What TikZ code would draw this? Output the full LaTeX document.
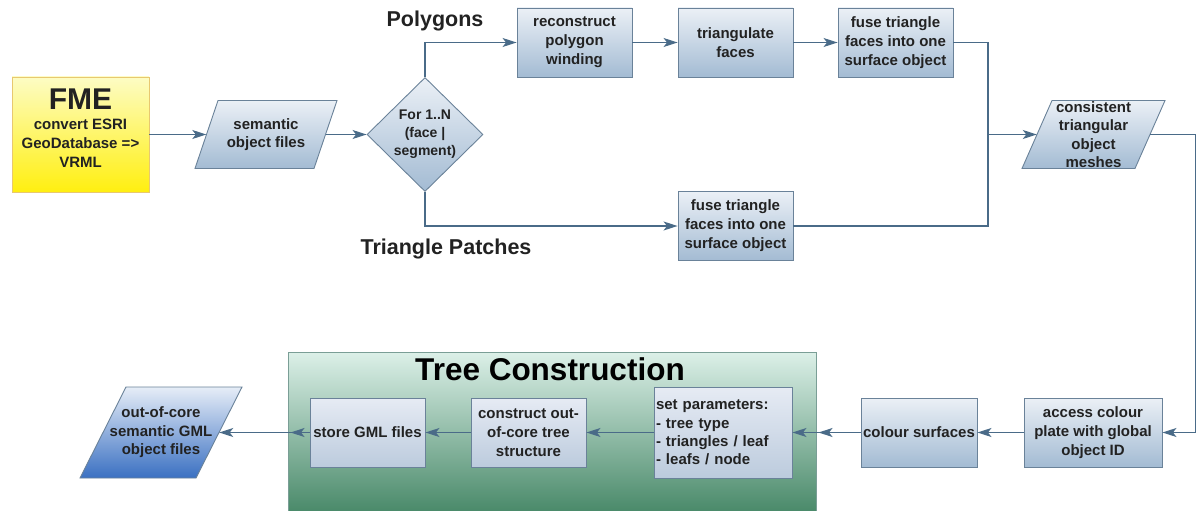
\documentclass[tikz,border=0pt]{standalone}
\usepackage{fontspec}
\setmainfont{Liberation Sans}
\usetikzlibrary{arrows.meta,shapes.geometric,decorations.markings}
\definecolor{lnc}{HTML}{4A6B88}
\definecolor{boxb}{HTML}{6A8299}
\definecolor{boxt}{HTML}{EBF0F6}
\definecolor{boxbt}{HTML}{A3BBD3}
\definecolor{inbt}{HTML}{E6EBF4}
\definecolor{inbb}{HTML}{BCCBDD}
\definecolor{txt}{HTML}{222222}
\definecolor{fmet}{HTML}{FDFCC4}
\definecolor{fmeb}{HTML}{FFEF10}
\definecolor{fmed}{HTML}{E8C870}
\definecolor{cont}{HTML}{DCF0E8}
\definecolor{conm}{HTML}{8CC0A8}
\definecolor{conb}{HTML}{4A8A6A}
\definecolor{cond}{HTML}{7A9E96}
\definecolor{outt}{HTML}{E6EDF7}
\definecolor{outb}{HTML}{3A70C2}
\begin{document}
\begin{tikzpicture}[x=1pt,y=-1pt,
  tip/.style={-{Stealth[length=14pt,width=9pt,inset=3.5pt]}},
  arr/.style={draw=lnc,line width=1.2pt,tip},
  ln/.style={draw=lnc,line width=1.2pt},
  midarr/.style={postaction={decorate},decoration={markings,mark=at position #1 with {\arrow{Stealth[length=14pt,width=9pt,inset=3.5pt]}}}},
  bxfont/.style={font={\bfseries\fontsize{15}{19}\selectfont},text=txt},
  box/.style={draw=boxb,line width=0.9pt,top color=boxt,bottom color=boxbt,minimum width=115,minimum height=69,inner sep=1pt,align=center,bxfont},
  inbox/.style={box,top color=inbt,bottom color=inbb},
  paraline/.style={draw=boxb,line width=0.9pt,top color=boxt,bottom color=boxbt},
  ptext/.style={inner sep=0pt,align=center,bxfont,font={\bfseries\fontsize{15}{18.5}\selectfont}},
  dia/.style={shape=diamond,draw=boxb,line width=0.9pt,top color=boxt,bottom color=boxbt,minimum width=116,minimum height=114,inner sep=0pt},
  lbl/.style={font={\bfseries\fontsize{21.5}{24}\selectfont},text=txt,inner sep=0pt}
]
\useasboundingbox (0,0) rectangle (1197,511);

% FME
\node[draw=fmed,line width=0.9pt,top color=fmet,bottom color=fmeb,minimum width=137,minimum height=115,inner sep=0pt] (fme) at (80.5,134.5) {};
\node[align=center,bxfont,inner sep=0pt] (fmet) at (80.5,128) {{\fontsize{30}{30}\selectfont FME}\\[1pt]convert ESRI\\GeoDatabase =>\\VRML};

% semantic object files
\path[paraline] (195,168.5) -- (314,168.5) -- (337,100.5) -- (218,100.5) -- cycle;
\node[ptext,minimum width=119,minimum height=68] (sem) at (266,134.5) {semantic\\object files};

% decision
\node[dia] (dia) at (425,134.5) {};
\node[ptext,font={\bfseries\fontsize{14}{18}\selectfont}] (diat) at (425,134.5) {For 1..N\\(face |\\segment)};

% upper branch
\node[box] (rec) at (574.5,42.5) {reconstruct\\polygon\\winding};
\node[box] (tri) at (735.5,42.5) {triangulate\\faces};
\node[box] (fus1) at (895.5,42.5) {fuse triangle\\faces into one\\surface object};
\node[box] (fus2) at (735.5,226) {fuse triangle\\faces into one\\surface object};

\node[lbl] (poly) at (435,21) {Polygons};
\node[lbl] (patch) at (446,249) {Triangle Patches};

% meshes
\path[paraline] (1022,168.5) -- (1135,168.5) -- (1165,100.5) -- (1052,100.5) -- cycle;
\node[ptext,minimum width=113,minimum height=68] (mesh) at (1093.5,134.5) {consistent\\triangular\\object\\meshes};

% tree container
\fill[top color=cont,middle color=conm,bottom color=conb] (288,352) rectangle (816,511);
\draw[draw=cond,line width=0.9pt] (288,512) -- (288,352) -- (816,352) -- (816,512);
\node[font={\bfseries\fontsize{31.5}{34}\selectfont},text=black,inner sep=0pt] (title) at (550,369) {Tree Construction};

\node[inbox] (store) at (367.5,432.5) {store GML files};
\node[inbox] (cons) at (528.5,432.5) {construct out-\\of-core tree\\structure};
\node[inbox,minimum width=138,minimum height=91] (setp) at (723,432.5) {};
\node[bxfont,align=left,text width=136,inner sep=0pt,font={\bfseries\fontsize{15}{18.3}\selectfont}] (setpt) at (724,432.5) {set parameters:\\- tree type\\- triangles / leaf\\- leafs / node};
\node[box,minimum width=116] (col) at (919,432.5) {colour surfaces};
\node[box,minimum width=138] (acc) at (1093,432.5) {access colour\\plate with global\\object ID};

% output
\path[draw=boxb,line width=0.9pt,top color=outt,bottom color=outb] (80,478) -- (196,478) -- (242,387) -- (126,387) -- cycle;
\node[ptext,minimum width=116,minimum height=91] (out) at (161,432.5) {out-of-core\\semantic GML\\object files};

% connectors
\coordinate (j) at (988,134.5);
\coordinate (r) at (1195.5,432.5);
\draw[arr] (fme.east) -- (sem.west);
\draw[arr] (sem.east) -- (dia.west);
\draw[arr] (dia.north) |- (rec.west);
\draw[arr] (rec.east) -- (tri.west);
\draw[arr] (tri.east) -- (fus1.west);
\draw[arr] (dia.south) |- (fus2.west);
\draw[ln] (fus1.east) -| (j);
\draw[ln] (fus2.east) -| (j);
\draw[arr] (j) -- (mesh.west);
\draw[arr] (mesh.east) -| (r) -- (acc.east);
\draw[arr] (acc.west) -- (col.east);
\draw[arr,color=lnc,midarr=42pt] (col.west) -- (setp.east);
\draw[arr] (setp.west) -- (cons.east);
\draw[arr] (cons.west) -- (store.east);
\draw[arr,color=lnc,midarr=19pt] (store.west) -- (out.east);
\end{tikzpicture}
\end{document}
